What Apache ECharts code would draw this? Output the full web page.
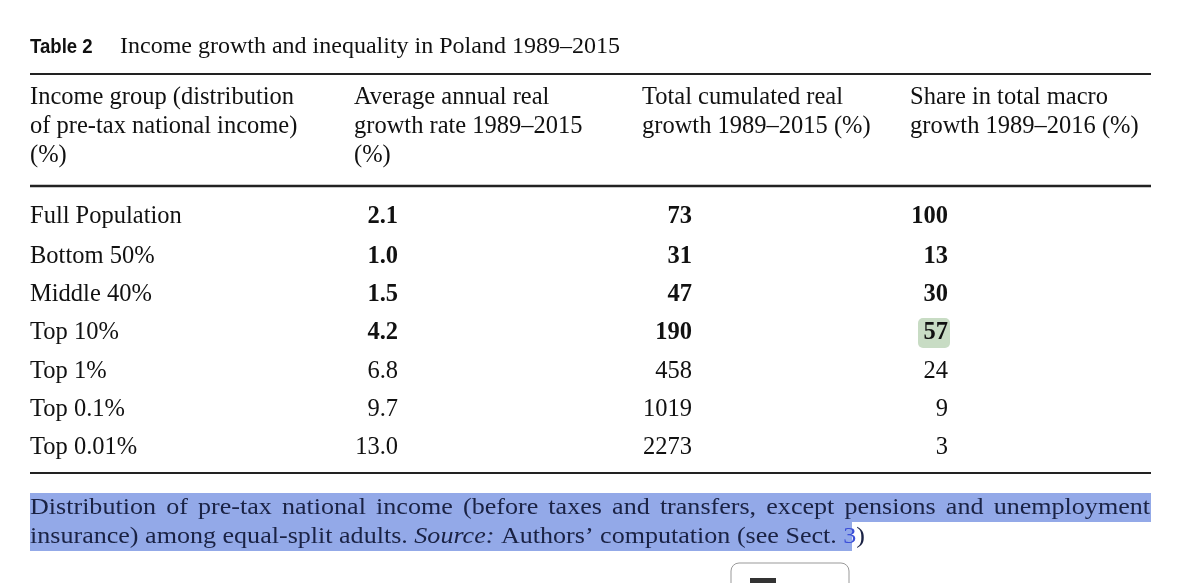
<!DOCTYPE html>
<html lang="en" style="height: 100%">
<head>
    <meta charset="utf-8">
</head>
<body style="height: 100%; margin: 0; background: #fff">
<div id="container" style="width: 1199px; height: 583px"></div>
<script type="text/javascript" src="https://fastly.jsdelivr.net/npm/echarts@6/dist/echarts.min.js"></script>
<script type="text/javascript">
    // table content
    var headers = [
        ['Income group (distribution', 'of pre-tax national income)', '(%)'],
        ['Average annual real', 'growth rate 1989\u20132015', '(%)'],
        ['Total cumulated real', 'growth 1989\u20132015 (%)'],
        ['Share in total macro', 'growth 1989\u20132016 (%)']
    ];
    var groups = ['Full Population', 'Bottom 50%', 'Middle 40%', 'Top 10%', 'Top 1%', 'Top 0.1%', 'Top 0.01%'];
    var avgGrowth = ['2.1', '1.0', '1.5', '4.2', '6.8', '9.7', '13.0'];
    var totalGrowth = ['73', '31', '47', '190', '458', '1019', '2273'];
    var shareGrowth = ['100', '13', '30', '57', '24', '9', '3'];
    var boldRows = 4;
    var footLine1 = 'Distribution of pre-tax national income (before taxes and transfers, except pensions and unemployment';

    var serif = 'Liberation Serif';
    var headX = [30, 354, 642, 910];
    var valRight = [398, 692, 948];
    var rowY = [217, 257, 295, 333, 372, 410, 448];
    var els = [];
    var ctx = document.createElement('canvas').getContext('2d');
    function measure(s, size, style) {
        ctx.font = (style || 'normal') + ' ' + size + 'px "Liberation Serif"';
        return ctx.measureText(s).width;
    }

    function txt(x, y, s, opt) {
        opt = opt || {};
        els.push({
            type: 'text', x: x, y: y, z: 5, scaleX: opt.scaleX || 1,
            style: {
                text: s, fill: opt.fill || '#111',
                fontFamily: opt.family || serif,
                fontSize: opt.size || 24.5,
                fontWeight: opt.weight || 'normal',
                fontStyle: opt.style || 'normal',
                align: opt.align || 'left', verticalAlign: 'middle'
            }
        });
    }
    function rule(y, w) {
        els.push({ type: 'rect', shape: { x: 30, y: y - w / 2, width: 1121, height: w }, style: { fill: '#222' } });
    }

    // title
    txt(30, 47, 'Table 2', { weight: 'bold', size: 20, family: 'Liberation Sans', scaleX: 0.93 });
    txt(120, 47, 'Income growth and inequality in Poland 1989\u20132015', { size: 24 });
    rule(74, 2);
    rule(186, 2.5);
    rule(473, 2);

    headers.forEach(function (lines, c) {
        lines.forEach(function (l, i) { txt(headX[c], 98 + i * 29, l); });
    });

    // highlight behind 57
    els.push({ type: 'rect', shape: { x: 918, y: 318, width: 32, height: 30, r: 5 }, style: { fill: '#c8dcc4' } });

    groups.forEach(function (g, i) {
        var w = i < boldRows ? 'bold' : 'normal';
        txt(30, rowY[i], g);
        txt(valRight[0], rowY[i], avgGrowth[i], { align: 'right', weight: w });
        txt(valRight[1], rowY[i], totalGrowth[i], { align: 'right', weight: w });
        txt(valRight[2], rowY[i], shareGrowth[i], { align: 'right', weight: w });
    });

    // footnote with selection highlight
    els.push({ type: 'rect', shape: { x: 30, y: 493, width: 1121, height: 29 }, style: { fill: '#93a9e8' } });
    els.push({ type: 'rect', shape: { x: 30, y: 522, width: 822, height: 29 }, style: { fill: '#93a9e8' } });
    var fc = '#1a2244';
    var fs = 24;
    var p1 = 'insurance) among equal-split adults. ';
    var p2 = 'Source: ';
    var p3 = 'Authors\u2019 computation (see Sect. ';
    var natural = measure(p1, fs) + measure(p2, fs, 'italic') + measure(p3, fs) + measure('3)', fs);
    var sx = (865 - 30) / natural;
    var words = footLine1.split(' ');
    var wsum = 0;
    words.forEach(function (w) { wsum += measure(w, fs) * sx; });
    var gap = (1150 - 30 - wsum) / (words.length - 1);
    var cx = 30;
    words.forEach(function (w) {
        txt(cx, 508, w, { fill: fc, size: fs, scaleX: sx });
        cx += measure(w, fs) * sx + gap;
    });
    var x2 = 30;
    txt(x2, 537, p1, { fill: fc, size: fs, scaleX: sx });
    x2 += measure(p1, fs) * sx;
    txt(x2, 537, 'Source:', { fill: fc, size: fs, style: 'italic', scaleX: sx });
    x2 += measure(p2, fs, 'italic') * sx;
    txt(x2, 537, p3, { fill: fc, size: fs, scaleX: sx });
    x2 += measure(p3, fs) * sx;
    txt(x2, 537, '3', { fill: '#3b4fd8', size: fs, scaleX: sx });
    x2 += measure('3', fs) * sx;
    txt(x2, 537, ')', { fill: fc, size: fs, scaleX: sx });

    // partially visible button at the bottom
    els.push({ type: 'rect', shape: { x: 731, y: 563, width: 118, height: 40, r: 8 }, style: { fill: '#fff', stroke: '#999', lineWidth: 1 } });
    els.push({ type: 'rect', shape: { x: 750, y: 578, width: 26, height: 8 }, style: { fill: '#333' } });

    var myChart = echarts.init(document.getElementById('container'));
    myChart.setOption({ animation: false, graphic: { elements: els } });
</script>
</body>
</html>
